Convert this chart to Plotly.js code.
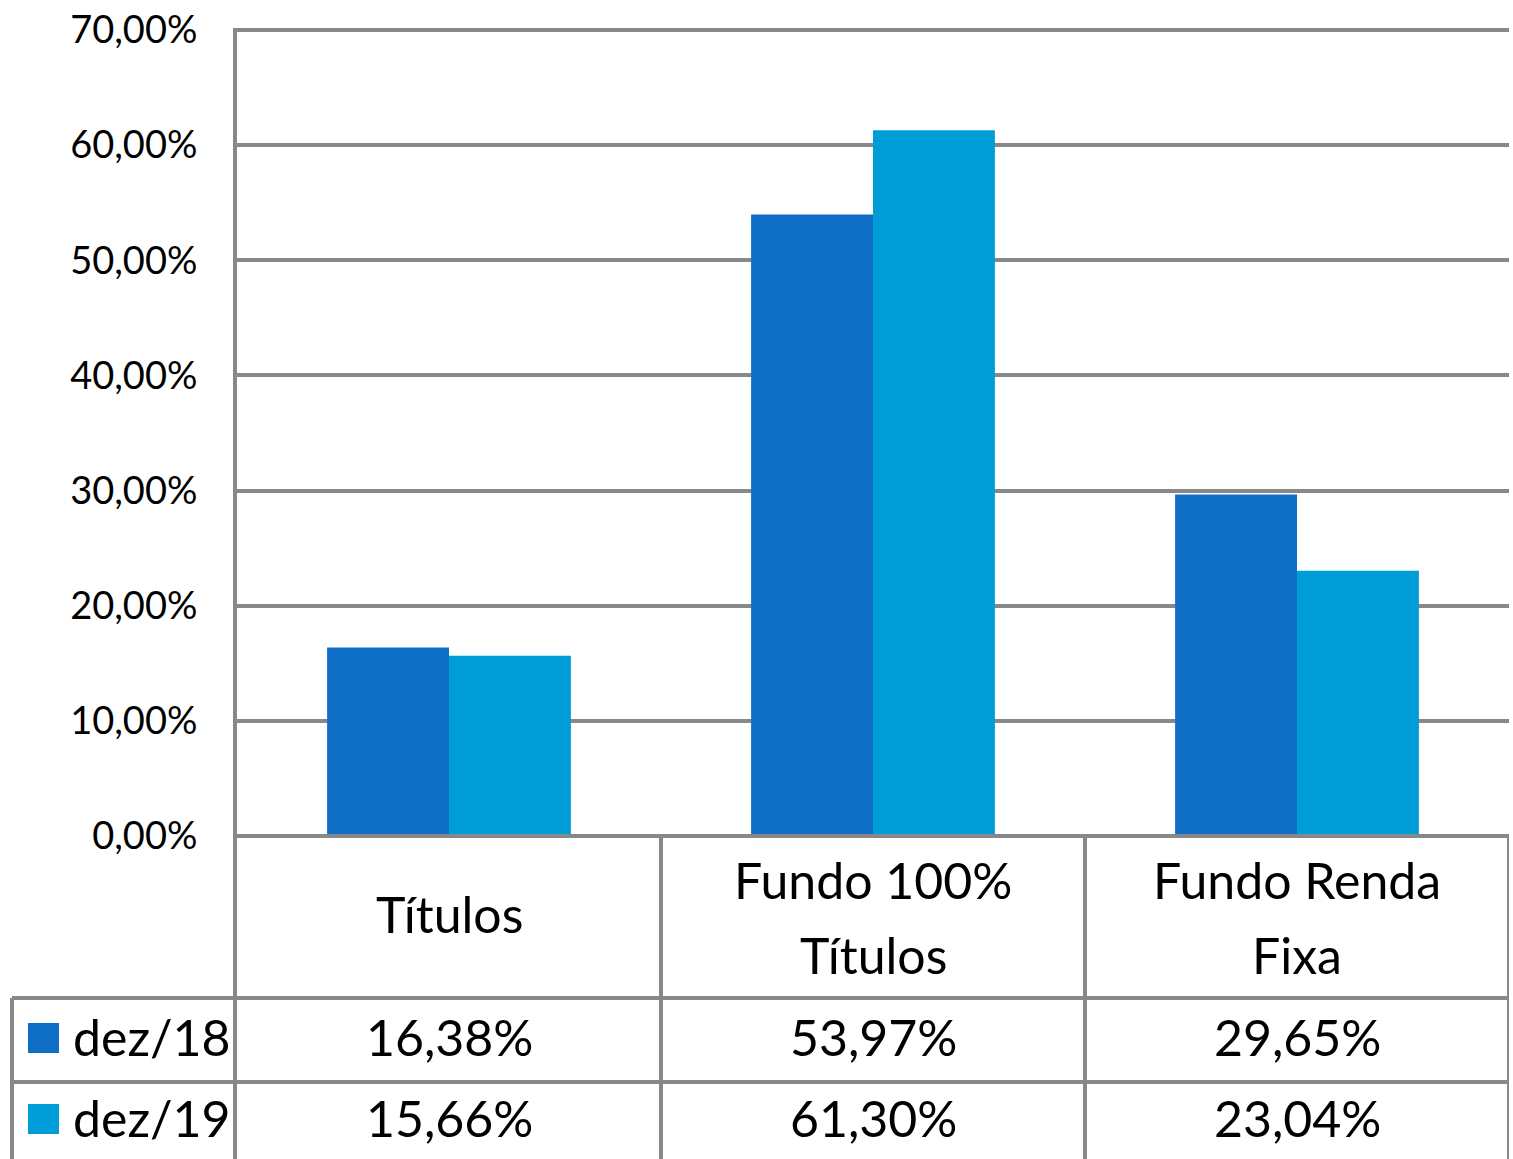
<!DOCTYPE html>
<html>
<head>
<meta charset="utf-8">
<script src="https://cdn.plot.ly/plotly-3.0.1.min.js"></script>
<style>html,body{margin:0;padding:0;background:#fff;}#chart{width:1513px;height:1159px;}</style>
</head>
<body>
<div id="chart"></div>
<script>
// ---- data ----
const categories = ["Títulos", "Fundo 100% Títulos", "Fundo Renda Fixa"];
const categoryLines = [["Títulos"], ["Fundo 100%", "Títulos"], ["Fundo Renda", "Fixa"]];
const seriesNames = ["dez/18", "dez/19"];
const dez18 = [16.38, 53.97, 29.65];
const dez19 = [15.66, 61.30, 23.04];
const seriesColors = ["#0F6FC6", "#009DD9"];
const yTicks = [0, 10, 20, 30, 40, 50, 60, 70];

// ---- layout helpers ----
const W = 1513, H = 1159;
const M = {l: 237, r: 4, t: 30, b: 323};
const plotH = H - M.t - M.b;
const plotW = W - M.l - M.r;
const py = y => (H - M.b - y) / plotH;     // pixel y -> paper y
const px = x => (x - M.l) / plotW;          // pixel x -> paper x
const fmt = v => v.toFixed(2).replace('.', ',') + '%';
const FONT = "Lato, 'Noto Sans', sans-serif";
const GRID = "#888888";
const TS = 50;

const series = [dez18, dez19];
const traces = series.map((vals, i) => ({
  type: 'bar', x: categories, y: vals, name: seriesNames[i],
  marker: {color: seriesColors[i], line: {width: 0}},
  hoverinfo: 'skip'
}));

const shapes = [];
const line = (x0, y0, x1, y1, xref) => shapes.push({
  type: 'line', xref: xref || 'paper', yref: 'paper', x0, y0, x1, y1,
  line: {color: GRID, width: 4}, layer: 'above'
});
// table grid
line(px(12), py(998), 1, py(998));
line(px(12), py(1082), 1, py(1082));
line(px(12), py(998), px(12), py(H + 5));
line(px(235), 0, px(235), py(H + 5));
for (let k = 0; k < categories.length; k++) {
  line(k + 0.5, 0, k + 0.5, py(H + 5), 'x');
}
line(px(233), 0, 1, 0);
line(px(233), 1, 1, 1);

const annotations = [];
categoryLines.forEach((lines, i) => {
  const centers = lines.length === 1 ? [914] : [880, 955];
  lines.forEach((t, j) => annotations.push({
    xref: 'x', yref: 'paper', x: categories[i], y: py(centers[j]),
    text: t, showarrow: false, xanchor: 'center', yanchor: 'middle',
    font: {family: FONT, size: TS, color: '#000'}
  }));
});
const rowY = [1037, 1118];
series.forEach((vals, r) => {
  vals.forEach((v, i) => annotations.push({
    xref: 'x', yref: 'paper', x: categories[i], y: py(rowY[r]),
    text: fmt(v), showarrow: false, xanchor: 'center', yanchor: 'middle',
    font: {family: FONT, size: TS, color: '#000'}
  }));
  annotations.push({
    xref: 'paper', yref: 'paper', x: px(71), y: py(rowY[r]),
    text: seriesNames[r], showarrow: false, xanchor: 'left', yanchor: 'middle',
    font: {family: FONT, size: TS, color: '#000'}
  });
  shapes.push({
    type: 'rect', xref: 'paper', yref: 'paper',
    x0: px(28), x1: px(59), y0: py(rowY[r] - 14), y1: py(rowY[r] + 16),
    fillcolor: seriesColors[r], line: {width: 0}
  });
});

const layout = {
  width: W, height: H,
  margin: M,
  paper_bgcolor: '#fff', plot_bgcolor: '#fff',
  showlegend: false,
  barmode: 'group', bargap: 0.425, bargroupgap: 0,
  separators: ',.',
  font: {family: FONT, color: '#000'},
  xaxis: {
    type: 'category', range: [-0.5, categories.length - 0.5],
    showticklabels: false, showgrid: false, zeroline: false, showline: false, ticks: ''
  },
  yaxis: {
    range: [0, 70], tickvals: yTicks, ticktext: yTicks.map(v => v.toFixed(2).replace('.', ',') + '%'),
    showgrid: true, gridcolor: GRID, gridwidth: 4,
    zeroline: false, showline: true, linecolor: GRID, linewidth: 4,
    ticks: '', ticklabelstandoff: 28,
    tickfont: {family: FONT, size: 38, color: '#000'}
  },
  shapes, annotations
};

Plotly.newPlot('chart', traces, layout, {displayModeBar: false, staticPlot: true});
</script>
</body>
</html>
